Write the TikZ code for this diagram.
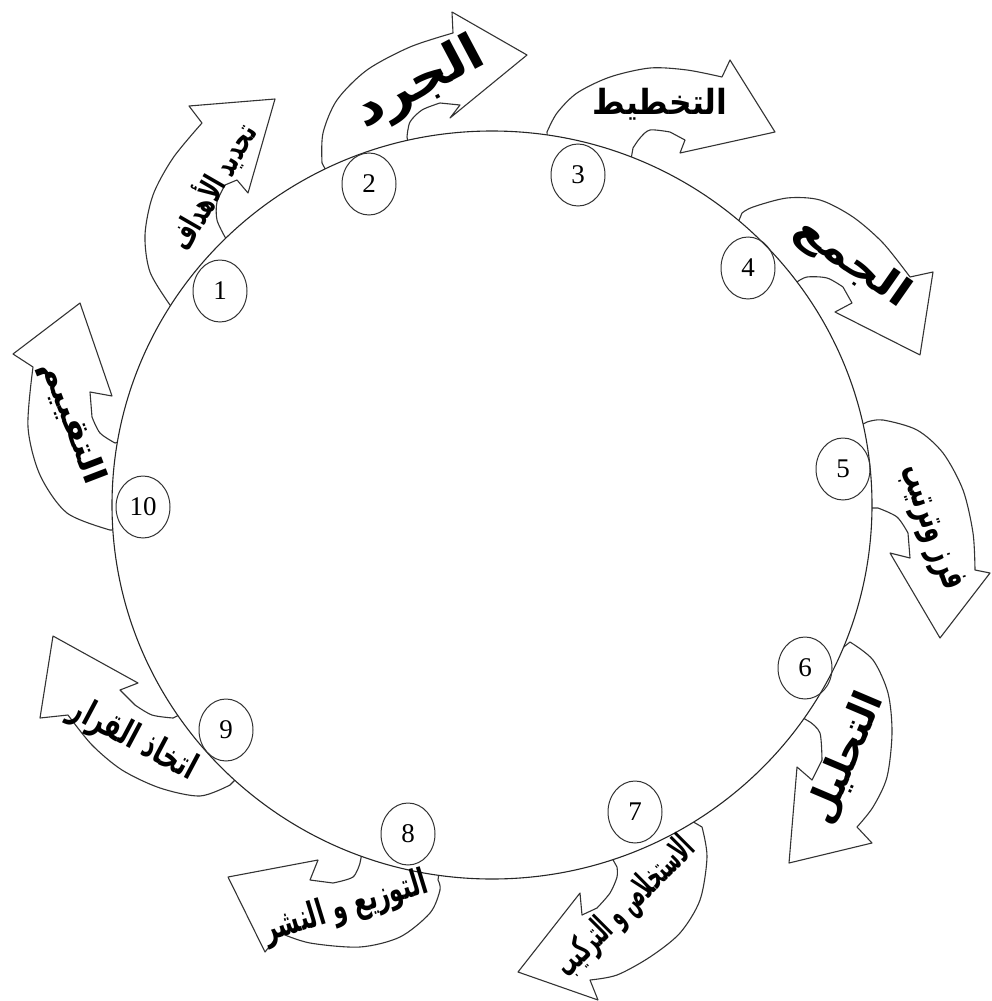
\documentclass[tikz,border=0pt]{standalone}
\usepackage{fontspec}
\usepackage{graphicx}
\usetikzlibrary{shapes.geometric}
\TeXXeTstate=1
\setmainfont{Liberation Serif}
\newfontfamily\arabicfont[Script=Arabic]{DejaVu Sans}
\newcommand{\arb}{\arabicfont\bfseries}
\tikzset{
  arr/.style={draw=black!80, line width=1.1pt, fill=white, line join=round},
  ring/.style={draw=black!85, line width=1.1pt, fill=white, ellipse, inner sep=0pt, minimum width=760pt, minimum height=748pt},
  num/.style={draw=black!80, line width=1pt, ellipse, inner sep=0pt, minimum width=54pt, minimum height=62pt, font=\fontsize{27}{27}\selectfont},
  lab/.style={inner sep=0pt}
}
\begin{document}
\begin{tikzpicture}[x=1pt,y=-1pt]
\useasboundingbox (0,0) rectangle (992,1001);
% arrows (bases hidden by the ring)
% 1
\draw[arr] (180,318) -- plot[smooth] coordinates {(170,305) (150,272) (145,235) (153,195) (173,158) (202,123)}
  -- (189,106) -- (275,99) -- (248,193) -- (237,180)
  -- plot[smooth] coordinates {(225,185) (217,202) (217,220) (225,237)} -- (235,250) -- cycle;
% 2
\draw[arr] (330,178) -- plot[smooth] coordinates {(322,163) (323,133) (337,100) (367,70) (410,47) (453,33)}
  -- (452,12) -- (527,55) -- (450,118) -- (460,105)
  -- plot[smooth] coordinates {(440,103) (422,110) (410,122) (407,137)} -- (410,152) -- cycle;
% 3
\draw[arr] (548,148) -- plot[smooth] coordinates {(547,132) (557,113) (577,93) (610,77) (650,68) (687,70) (722,77)}
  -- (730,60) -- (775,132) -- (680,153) -- (685,140)
  -- plot[smooth] coordinates {(670,132) (650,130) (640,138) (633,148)} -- (630,165) -- cycle;
% 4
\draw[arr] (735,230) -- plot[smooth] coordinates {(742,213) (753,207) (787,198) (820,200) (853,217) (883,243) (910,277)}
  -- (933,272) -- (920,355) -- (835,312) -- (852,303)
  -- plot[smooth] coordinates {(843,287) (827,278) (807,277) (797,282)} -- (785,298) -- cycle;
% 5
\draw[arr] (855,428) -- plot[smooth] coordinates {(867,422) (883,420) (917,430) (943,453) (963,490) (973,533) (975,570)}
  -- (990,573) -- (940,638) -- (890,553) -- (910,558)
  -- plot[smooth] coordinates {(908,533) (897,517) (878,508)} -- (860,508) -- cycle;
% 6
\draw[arr] (840,650) -- plot[smooth] coordinates {(850,642) (873,660) (888,693) (892,733) (887,777) (873,807) (857,827)}
  -- (872,843) -- (789,863) -- (797,767) -- (812,780)
  -- plot[smooth] coordinates {(822,760) (820,733) (810,722)} -- (798,715) -- cycle;
% 7
\draw[arr] (690,820) -- plot[smooth] coordinates {(702,827) (707,857) (700,900) (680,933) (650,957) (617,975) (590,980)}
  -- (598,1000) -- (518,972) -- (580,893) -- (582,915)
  -- plot[smooth] coordinates {(597,908) (610,893) (617,877) (617,867)} -- (612,858) -- cycle;
% 8
\draw[arr] (440,865) -- plot[smooth] coordinates {(438,880) (440,890) (430,913) (400,937) (360,947) (310,943) (280,933)}
  -- (265,952) -- (228,877) -- (318,860) -- (310,880)
  -- plot[smooth] coordinates {(333,883) (353,877) (360,863)} -- (362,853) -- cycle;
% 9
\draw[arr] (240,775) -- plot[smooth] coordinates {(230,785) (200,796) (160,788) (122,770) (92,745) (68,715)}
  -- (40,718) -- (53,636) -- (138,683) -- (120,690)
  -- plot[smooth] coordinates {(135,705) (152,715) (173,718)} -- (185,712) -- cycle;
% 10
\draw[arr] (122,530) -- plot[smooth] coordinates {(110,530) (67,513) (40,475) (28,427) (33,367)}
  -- (13,354) -- (80,303) -- (112,396) -- (90,392)
  -- plot[smooth] coordinates {(92,417) (100,433) (115,443)} -- (125,440) -- cycle;
% ring
\node[ring] (ring) at (492,505) {};
% numbered circles
\node[num] (n1) at (220,291) {1};
\node[num] (n2) at (369,184) {2};
\node[num] (n3) at (578,175) {3};
\node[num] (n4) at (748,268) {4};
\node[num] (n5) at (843,469) {5};
\node[num] (n6) at (805,668) {6};
\node[num] (n7) at (635,812) {7};
\node[num] (n8) at (408,834) {8};
\node[num] (n9) at (226,730) {9};
\node[num] (n10) at (143,507) {10};
% labels
\node[lab, rotate=60] (t1) at (212,186) {\resizebox*{140pt}{36pt}{\arb\beginR تحديد الأهداف\endR}};
\node[lab, rotate=28] (t2) at (420,84) {\resizebox*{140pt}{50pt}{\arb\beginR الجرد\endR}};
\node[lab] (t3) at (660,104) {\resizebox*{135pt}{32pt}{\arb\beginR التخطيط\endR}};
\node[lab, rotate=-35] (t4) at (852,263) {\resizebox*{132pt}{40pt}{\arb\beginR الجمع\endR}};
\node[lab, rotate=-70] (t5) at (930,528) {\resizebox*{130pt}{34pt}{\arb\beginR فرز وترتيب\endR}};
\node[lab, rotate=67] (t6) at (846,758) {\resizebox*{138pt}{38pt}{\arb\beginR التحليل\endR}};
\node[lab, rotate=45] (t7) at (626,908) {\resizebox*{182pt}{36pt}{\arb\beginR الاستخلاص و التركيب\endR}};
\node[lab, rotate=17] (t8) at (346,908) {\resizebox*{170pt}{36pt}{\arb\beginR التوزيع و النشر\endR}};
\node[lab, rotate=-28] (t9) at (133,740) {\resizebox*{138pt}{36pt}{\arb\beginR اتخاذ القرار\endR}};
\node[lab, rotate=-69] (t10) at (72,423) {\resizebox*{130pt}{32pt}{\arb\beginR التقييم\endR}};
\end{tikzpicture}
\end{document}
